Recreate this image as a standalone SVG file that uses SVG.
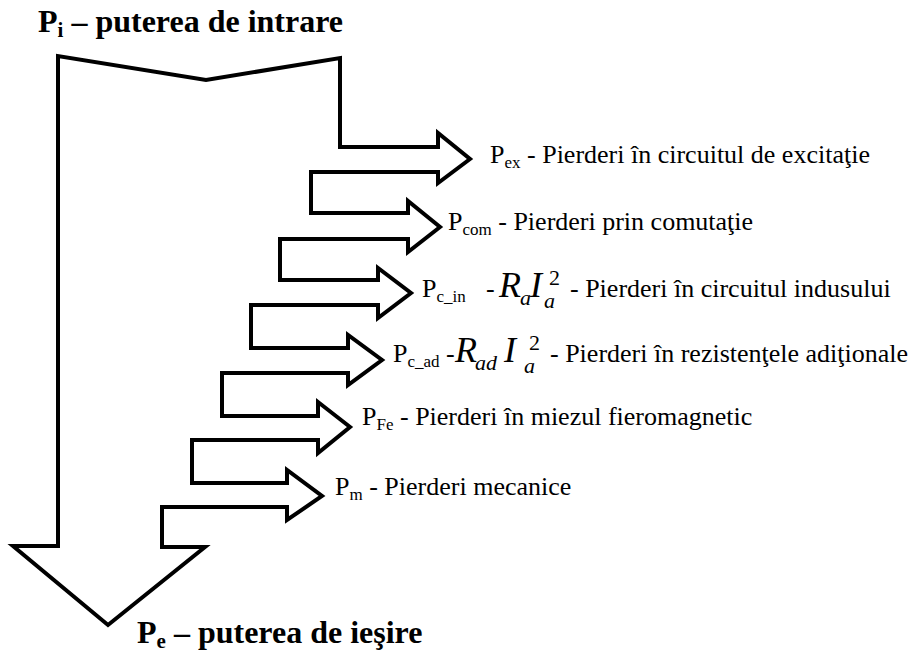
<svg xmlns="http://www.w3.org/2000/svg" width="914" height="658" viewBox="0 0 914 658">
<style>
.ln{fill:none;stroke:#000;stroke-width:4;stroke-linecap:square;stroke-linejoin:miter}
.t{font-family:"Liberation Serif","Times New Roman",serif;font-size:26px;fill:#000}
.b{font-family:"Liberation Serif","Times New Roman",serif;font-size:32px;font-weight:bold;fill:#000}
.s{font-size:17px}
.sb{font-size:21px}
.m{font-family:"Liberation Serif","Times New Roman",serif;font-style:italic;font-size:36px;fill:#000}
.ms{font-family:"Liberation Serif","Times New Roman",serif;font-style:italic;font-size:22px;fill:#000}
.sup{font-family:"Liberation Serif","Times New Roman",serif;font-size:22px;fill:#000}
</style>
<rect width="914" height="658" fill="#fff"/>
<g id="flow">
<path id="input" class="ln" d="M58,546 L58,56 L206,80 L340,58 L340,147"/>
<path id="arrow-ex" class="ln" d="M340,147 L438,147 L438,133 L470,159 L438,183 L438,172 L311,172 L311,213"/>
<path id="arrow-com" class="ln" d="M311,213 L408,213 L408,201 L440,227 L408,252 L408,239 L280,239 L280,280"/>
<path id="arrow-cin" class="ln" d="M280,280 L378,280 L378,268 L411,293 L378,318 L378,305 L251,305 L251,348"/>
<path id="arrow-cad" class="ln" d="M251,348 L348,348 L348,335 L382,360 L348,385 L348,373 L222,373 L222,416"/>
<path id="arrow-fe" class="ln" d="M222,416 L318,416 L318,402 L350,427 L318,453 L318,440 L192,440 L192,483"/>
<path id="arrow-m" class="ln" d="M192,483 L287,483 L287,470 L322,496 L287,520 L287,507 L162,507 L162,547"/>
<path id="output" class="ln" d="M162,547 L205,547 L108,625 L13,546 L58,546"/>
</g>
<g id="label-in"><text class="b" x="38" y="32">P<tspan class="sb" dy="5">i</tspan><tspan dy="-5"> – puterea de intrare</tspan></text></g>
<g id="label-out"><text class="b" x="137" y="643">P<tspan class="sb" dy="5">e</tspan><tspan dy="-5"> – puterea de ieşire</tspan></text></g>
<g id="label-ex"><text class="t" x="490" y="163">P<tspan class="s" dy="5">ex</tspan><tspan dy="-5"> - Pierderi în circuitul de excitaţie</tspan></text></g>
<g id="label-com"><text class="t" x="448" y="230">P<tspan class="s" dy="5">com</tspan><tspan dy="-5"> - Pierderi prin comutaţie</tspan></text></g>
<g id="label-cin">
<text class="t" x="422" y="297">P<tspan class="s" dy="5">c_in</tspan></text>
<text class="t" x="486" y="297">-</text>
<text class="m" x="499" y="297">R</text>
<text class="ms" x="520" y="305">a</text>
<text class="m" x="530" y="297">I</text>
<text class="sup" x="549" y="285">2</text>
<text class="ms" x="544" y="308">a</text>
<text class="t" x="570" y="297">- Pierderi în circuitul indusului</text>
</g>
<g id="label-cad">
<text class="t" x="393" y="362">P<tspan class="s" dy="5">c_ad</tspan><tspan dy="-5"> -</tspan></text>
<text class="m" x="455" y="362">R</text>
<text class="ms" x="475" y="370">ad</text>
<text class="m" x="504" y="362">I</text>
<text class="sup" x="529" y="350">2</text>
<text class="ms" x="524" y="373">a</text>
<text class="t" x="550" y="362">- Pierderi în rezistenţele adiţionale</text>
</g>
<g id="label-fe"><text class="t" x="362" y="425">P<tspan class="s" dy="5">Fe</tspan><tspan dy="-5"> - Pierderi în miezul fieromagnetic</tspan></text></g>
<g id="label-m"><text class="t" x="335" y="495">P<tspan class="s" dy="5">m</tspan><tspan dy="-5"> - Pierderi mecanice</tspan></text></g>
</svg>
